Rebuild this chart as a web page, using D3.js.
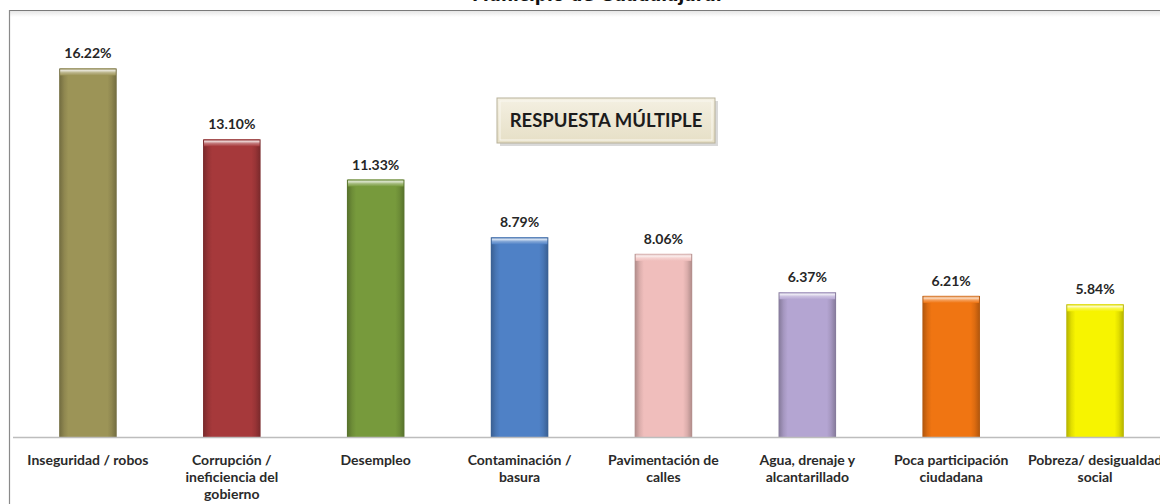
<!DOCTYPE html>
<html>
<head>
<meta charset="utf-8">
<script src="https://cdn.jsdelivr.net/npm/d3@7"></script>
<style>
  html, body { margin: 0; padding: 0; background: #ffffff; }
  svg { display: block; }
</style>
</head>
<body>
<svg id="chart" width="1160" height="504"></svg>
<script>
// Problemas principales del municipio (respuesta múltiple), porcentaje de menciones
const categories = [
  "Inseguridad / robos",
  "Corrupción / ineficiencia del gobierno",
  "Desempleo",
  "Contaminación / basura",
  "Pavimentación de calles",
  "Agua, drenaje y alcantarillado",
  "Poca participación ciudadana",
  "Pobreza/ desigualdad social"
];
const labelLines = [
  ["Inseguridad / robos"],
  ["Corrupción /", "ineficiencia del", "gobierno"],
  ["Desempleo"],
  ["Contaminación /", "basura"],
  ["Pavimentación de", "calles"],
  ["Agua, drenaje y", "alcantarillado"],
  ["Poca participación", "ciudadana"],
  ["Pobreza/ desigualdad", "social"]
];
const values = [16.22, 13.10, 11.33, 8.79, 8.06, 6.37, 6.21, 5.84];
const colors = ["#9c9457", "#a6393b", "#779a3c", "#4f81c6", "#f0bebc", "#b4a5d2", "#f07512", "#f7f400"];
const titleText = "Municipio de Guadalajara.";
const noteText = "RESPUESTA MÚLTIPLE";

const svg = d3.select("#chart");
const defs = svg.append("defs");

const x = d3.scaleBand()
  .domain(categories)
  .range([16, 1167])
  .paddingInner(0.6)
  .paddingOuter(0.3);

const y = d3.scaleLinear()
  .domain([0, 18])
  .range([437, 28]);

// Title (runs off the top edge)
svg.append("text")
  .attr("x", 597)
  .attr("y", 1)
  .attr("text-anchor", "middle")
  .attr("font-family", "DejaVu Sans, Verdana, sans-serif")
  .attr("font-weight", "bold")
  .attr("font-size", 17)
  .attr("fill", "#111")
  .text(titleText);

// Chart frame: top and left edges with a soft shadow under the top
const shadow = defs.append("linearGradient").attr("id", "topShade").attr("x1", 0).attr("y1", 0).attr("x2", 0).attr("y2", 1);
shadow.append("stop").attr("offset", 0).attr("stop-color", "#e6e6e6");
shadow.append("stop").attr("offset", 1).attr("stop-color", "#ffffff");
svg.append("rect").attr("x", 9).attr("y", 11).attr("width", 1151).attr("height", 6).attr("fill", "url(#topShade)");
svg.append("line").attr("x1", 9).attr("x2", 1160).attr("y1", 10.5).attr("y2", 10.5).attr("stroke", "#7a7a7a").attr("stroke-width", 1.2);
svg.append("line").attr("x1", 9.5).attr("x2", 9.5).attr("y1", 10).attr("y2", 504).attr("stroke", "#8a8a8a").attr("stroke-width", 1.2);

// Gradients giving each bar a bevelled look
colors.forEach((c, i) => {
  const base = d3.color(c);
  const dark = base.darker(0.9);
  const mid = base.darker(0.25);
  const g = defs.append("linearGradient").attr("id", "bar" + i).attr("x1", 0).attr("x2", 1).attr("y1", 0).attr("y2", 0);
  g.append("stop").attr("offset", 0).attr("stop-color", dark);
  g.append("stop").attr("offset", 0.09).attr("stop-color", mid);
  g.append("stop").attr("offset", 0.16).attr("stop-color", base);
  g.append("stop").attr("offset", 0.84).attr("stop-color", base);
  g.append("stop").attr("offset", 0.91).attr("stop-color", mid);
  g.append("stop").attr("offset", 1).attr("stop-color", dark);
  const cap = defs.append("linearGradient").attr("id", "cap" + i).attr("x1", 0).attr("x2", 0).attr("y1", 0).attr("y2", 1);
  cap.append("stop").attr("offset", 0).attr("stop-color", base.darker(0.4));
  cap.append("stop").attr("offset", 0.3).attr("stop-color", d3.interpolateRgb(c, "#ffffff")(0.75));
  cap.append("stop").attr("offset", 0.6).attr("stop-color", d3.interpolateRgb(c, "#ffffff")(0.3));
  cap.append("stop").attr("offset", 1).attr("stop-color", c);
});

const bars = svg.append("g").selectAll("g.bar")
  .data(values)
  .join("g")
  .attr("class", "bar");

bars.append("rect")
  .attr("x", (d, i) => x(categories[i]))
  .attr("y", d => y(d))
  .attr("width", x.bandwidth())
  .attr("height", d => y(0) - y(d))
  .attr("fill", (d, i) => `url(#bar${i})`);

bars.append("rect")
  .attr("x", (d, i) => x(categories[i]) + 1)
  .attr("y", d => y(d))
  .attr("width", x.bandwidth() - 2)
  .attr("height", 7)
  .attr("fill", (d, i) => `url(#cap${i})`);

// Value labels
bars.append("text")
  .attr("x", (d, i) => x(categories[i]) + x.bandwidth() / 2)
  .attr("y", d => y(d) - 10)
  .attr("text-anchor", "middle")
  .attr("font-family", "Lato, sans-serif")
  .attr("font-weight", "bold")
  .attr("font-size", 14)
  .attr("fill", "#262626")
  .text(d => d.toFixed(2) + "%");

// Category axis along the baseline
const axis = svg.append("g")
  .attr("transform", `translate(0,${y(0)})`)
  .call(d3.axisBottom(x).tickSize(0).tickPadding(0));
axis.select(".domain").attr("stroke", "#bdbdbd").attr("stroke-width", 1.5).attr("d", "M13,0.5H1160");
axis.selectAll(".tick text").each(function(d, i) {
  const t = d3.select(this);
  t.text(null)
    .attr("y", null)
    .attr("dy", null)
    .attr("font-family", "Lato, sans-serif")
    .attr("font-weight", "bold")
    .attr("font-size", 14)
    .attr("fill", "#2a2a2a");
  labelLines[i].forEach((line, k) => {
    t.append("tspan").attr("x", 0).attr("y", 28 + k * 17).text(line);
  });
});

// "Respuesta múltiple" note box
const note = svg.append("g");
const boxGrad = defs.append("linearGradient").attr("id", "noteFill").attr("x1", 0).attr("x2", 0).attr("y1", 0).attr("y2", 1);
boxGrad.append("stop").attr("offset", 0).attr("stop-color", "#f4f0e2");
boxGrad.append("stop").attr("offset", 1).attr("stop-color", "#e6dfc6");
note.append("rect").attr("x", 500).attr("y", 101).attr("width", 218).attr("height", 45).attr("fill", "#d9d9d9");
note.append("rect").attr("x", 497).attr("y", 98).attr("width", 218).attr("height", 45)
  .attr("fill", "url(#noteFill)").attr("stroke", "#b8b199").attr("stroke-width", 1);
note.append("rect").attr("x", 500).attr("y", 101).attr("width", 212).attr("height", 39)
  .attr("fill", "none").attr("stroke", "#faf8f0").attr("stroke-width", 1);
note.append("text")
  .attr("x", 606)
  .attr("y", 127)
  .attr("text-anchor", "middle")
  .attr("font-family", "Lato, sans-serif")
  .attr("font-weight", "bold")
  .attr("font-size", 18.5)
  .attr("fill", "#1c1c1c")
  .text(noteText);
</script>
</body>
</html>
